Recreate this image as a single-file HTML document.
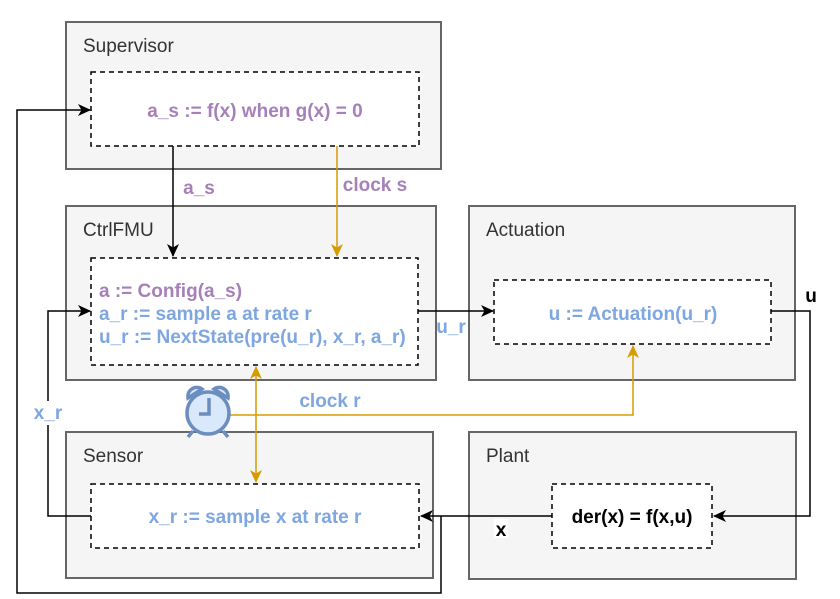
<!DOCTYPE html>
<html><head><meta charset="utf-8"><style>
html,body{margin:0;padding:0;background:#fff;}
svg{display:block;font-family:"Liberation Sans",Arial,sans-serif;}
.t{font-size:19px;fill:#333;}
.b{font-size:19px;font-weight:bold;}
.p{fill:#A680B8;}
.bl{fill:#7EA6E0;}
</style></head><body>
<svg width="840" height="599" viewBox="0 0 840 599" xmlns="http://www.w3.org/2000/svg">
<defs>
<marker id="ak" markerWidth="14" markerHeight="14" refX="12" refY="7" orient="auto" markerUnits="userSpaceOnUse"><path d="M0,1 L13,7 L0,13 L3.5,7 Z" fill="#000"/></marker>
<marker id="ao" markerWidth="14" markerHeight="14" refX="12" refY="7" orient="auto-start-reverse" markerUnits="userSpaceOnUse"><path d="M0,1 L13,7 L0,13 L3.5,7 Z" fill="#D79B00"/></marker>
</defs>
<g fill="#f5f5f5" stroke="#666" stroke-width="2">
<rect x="66" y="22" width="375" height="147"/>
<rect x="66" y="206" width="370" height="174"/>
<rect x="469" y="206" width="326" height="174"/>
<rect x="66" y="432" width="367" height="146"/>
<rect x="469" y="432" width="327" height="147"/>
</g>
<g fill="#fff" stroke="#000" stroke-width="1.5" stroke-dasharray="5,4">
<rect x="91" y="72" width="328" height="74"/>
<rect x="91" y="258" width="327" height="107"/>
<rect x="494" y="280" width="277" height="64"/>
<rect x="91" y="484" width="328" height="64"/>
<rect x="552" y="484" width="160" height="64"/>
</g>
<text class="t" x="83" y="52">Supervisor</text>
<text class="t" x="83" y="236">CtrlFMU</text>
<text class="t" x="486" y="236">Actuation</text>
<text class="t" x="83" y="462">Sensor</text>
<text class="t" x="486" y="462">Plant</text>
<text class="b p" x="255" y="117" text-anchor="middle">a_s := f(x) when g(x) = 0</text>
<text class="b p" x="99" y="297">a := Config(a_s)</text>
<text class="b bl" x="99" y="320">a_r := sample a at rate r</text>
<text class="b bl" x="99" y="343">u_r := NextState(pre(u_r), x_r, a_r)</text>
<text class="b bl" x="633" y="320" text-anchor="middle">u := Actuation(u_r)</text>
<text class="b bl" x="255" y="523" text-anchor="middle">x_r := sample x at rate r</text>
<text class="b" x="632" y="523" text-anchor="middle" fill="#000">der(x) = f(x,u)</text>
<g fill="none" stroke="#000" stroke-width="1.5">
<path d="M173,146 V256" marker-end="url(#ak)"/>
<path d="M91,516 H48 V311 H90" marker-end="url(#ak)"/>
<path d="M441,516 V593 H17 V110 H90" marker-end="url(#ak)"/>
<path d="M418,311 H493" marker-end="url(#ak)"/>
<path d="M771,311 H810 V516 H714" marker-end="url(#ak)"/>
<path d="M552,516 H421" marker-end="url(#ak)"/>
</g>
<g fill="none" stroke="#D79B00" stroke-width="1.5">
<path d="M337,146 V256" marker-end="url(#ao)"/>
<path d="M256,367 V482" marker-start="url(#ao)" marker-end="url(#ao)"/>
<path d="M230,415 H633 V346" marker-end="url(#ao)"/>
</g>
<text class="b p" x="199" y="194" text-anchor="middle">a_s</text>
<text class="b p" x="375" y="191" text-anchor="middle">clock s</text>
<rect x="31" y="401" width="34" height="24" fill="#fff"/>
<text class="b bl" x="48" y="419" text-anchor="middle">x_r</text>
<text class="b bl" x="451" y="333" text-anchor="middle">u_r</text>
<text class="b" x="811" y="302" text-anchor="middle" fill="#000">u</text>
<rect x="494" y="519" width="14" height="19" fill="#fff"/>
<text class="b" x="501" y="536" text-anchor="middle" fill="#000">x</text>
<text class="b bl" x="330" y="407" text-anchor="middle">clock r</text>
<g stroke="#6C8EBF" stroke-width="3.5" fill="#DAE8FC">
<path d="M188,398 A9,9 0 0 1 202,389 Z"/>
<path d="M228,398 A9,9 0 0 0 214,389 Z"/>
<line x1="193" y1="431" x2="188" y2="437"/>
<line x1="223" y1="431" x2="228" y2="437"/>
<circle cx="208" cy="413" r="21"/>
<path d="M209,398 V414 H199" fill="none"/>
</g>
</svg>
</body></html>
